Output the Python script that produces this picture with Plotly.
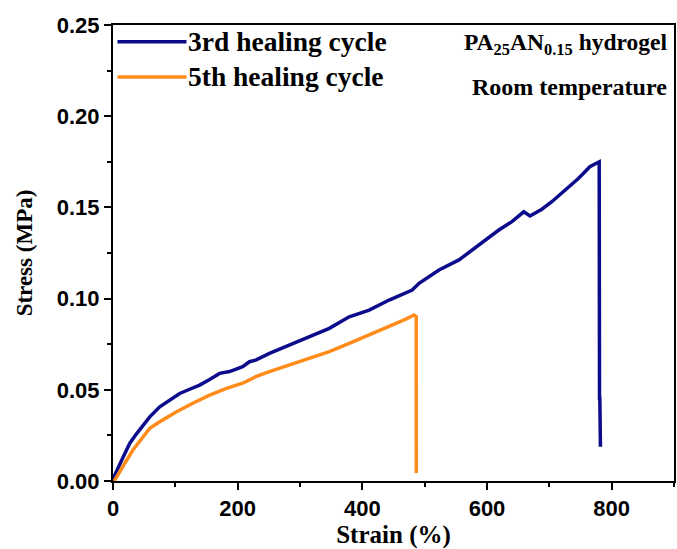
import plotly.graph_objects as go

strain_3rd = [0, 3, 16.5, 27, 38, 48, 59, 75, 91, 107, 123, 139, 155, 171, 187, 208, 219, 229, 251, 283, 315,
              347, 379, 411, 443, 480, 491, 523, 555, 587, 619, 640, 659, 669, 688, 704, 725, 747, 765, 780,
              780.5, 781, 782]
stress_3rd = [0.0, 0.0033, 0.0133, 0.0207, 0.026, 0.0307, 0.0352, 0.0407, 0.0444, 0.048, 0.0503, 0.0526, 0.0557,
              0.059, 0.060, 0.0627, 0.0654, 0.0663, 0.070, 0.0746, 0.0791, 0.0837, 0.090, 0.0937, 0.0992, 0.1047,
              0.1084, 0.1157, 0.1212, 0.1294, 0.1376, 0.1422, 0.1476, 0.1453, 0.149, 0.1531, 0.1595, 0.166,
              0.1723, 0.175, 0.0453, 0.0453, 0.0188]

strain_5th = [2, 6, 22, 32, 48, 59, 75, 102, 128, 155, 182, 208, 219, 229, 251, 283, 315, 347, 379, 411, 443,
              469, 483, 486.5, 486.6]
stress_5th = [0.0, 0.0024, 0.0115, 0.017, 0.0243, 0.0289, 0.0325, 0.038, 0.0426, 0.0471, 0.0508, 0.0536, 0.0554,
              0.0572, 0.060, 0.0636, 0.0673, 0.0709, 0.0755, 0.080, 0.0846, 0.0886, 0.091, 0.090, 0.0044]

series_names = ["3rd healing cycle", "5th healing cycle"]
colors = ["#0b0b8c", "#ff8c1a"]

x_ticks = [0, 200, 400, 600, 800]
y_ticks = [0.00, 0.05, 0.10, 0.15, 0.20, 0.25]

fig = go.Figure()
fig.add_trace(go.Scatter(x=strain_3rd, y=stress_3rd, mode="lines", name=series_names[0],
                         line=dict(color=colors[0], width=3.5), showlegend=False))
fig.add_trace(go.Scatter(x=strain_5th, y=stress_5th, mode="lines", name=series_names[1],
                         line=dict(color=colors[1], width=3.5), showlegend=False))

serif = "Liberation Serif"
sans = "Liberation Sans"

# manual legend
leg_y = [0.963, 0.886]
for i in range(2):
    fig.add_shape(type="line", xref="paper", yref="paper", x0=0.008, x1=0.131, y0=leg_y[i], y1=leg_y[i],
                  line=dict(color=colors[i], width=3.5))
    fig.add_annotation(xref="paper", yref="paper", x=0.131, y=leg_y[i], text=series_names[i],
                       showarrow=False, xanchor="left", yanchor="middle",
                       font=dict(family=serif, size=27.5, color="black", weight="bold"))

fig.add_annotation(xref="paper", yref="paper", x=0.991, y=0.958, text="PA<sub>25</sub>AN<sub>0.15</sub> hydrogel",
                   showarrow=False, xanchor="right", yanchor="middle",
                   font=dict(family=serif, size=23.5, color="black", weight="bold"))
fig.add_annotation(xref="paper", yref="paper", x=0.991, y=0.864, text="Room temperature",
                   showarrow=False, xanchor="right", yanchor="middle",
                   font=dict(family=serif, size=24, color="black", weight="bold"))

axis_common = dict(showline=True, linecolor="black", linewidth=2, mirror=True,
                   ticks="outside", ticklen=7, tickwidth=2, tickcolor="black",
                   showgrid=False, zeroline=False,
                   tickfont=dict(family=sans, size=22, color="black", weight="bold"))

fig.update_xaxes(range=[0, 900], tickvals=x_ticks, ticktext=[str(v) for v in x_ticks],
                 minor=dict(ticks="outside", ticklen=4, tickwidth=2, tickcolor="black", dtick=100, tick0=0),
                 title=dict(text="Strain (%)", font=dict(family=serif, size=25, color="black", weight="bold"), standoff=4),
                 **axis_common)
fig.update_yaxes(range=[0, 0.25], tickvals=y_ticks, ticktext=[f"{v:.2f}" for v in y_ticks],
                 minor=dict(ticks="outside", ticklen=4, tickwidth=2, tickcolor="black", dtick=0.025, tick0=0),
                 title=dict(text="Stress (MPa)", font=dict(family=serif, size=23, color="black", weight="bold"), standoff=18),
                 **axis_common)

fig.update_layout(width=677, height=549, margin=dict(l=113, r=1, t=25, b=68),
                  plot_bgcolor="white", paper_bgcolor="white", showlegend=False)

fig.write_html("out.html")
